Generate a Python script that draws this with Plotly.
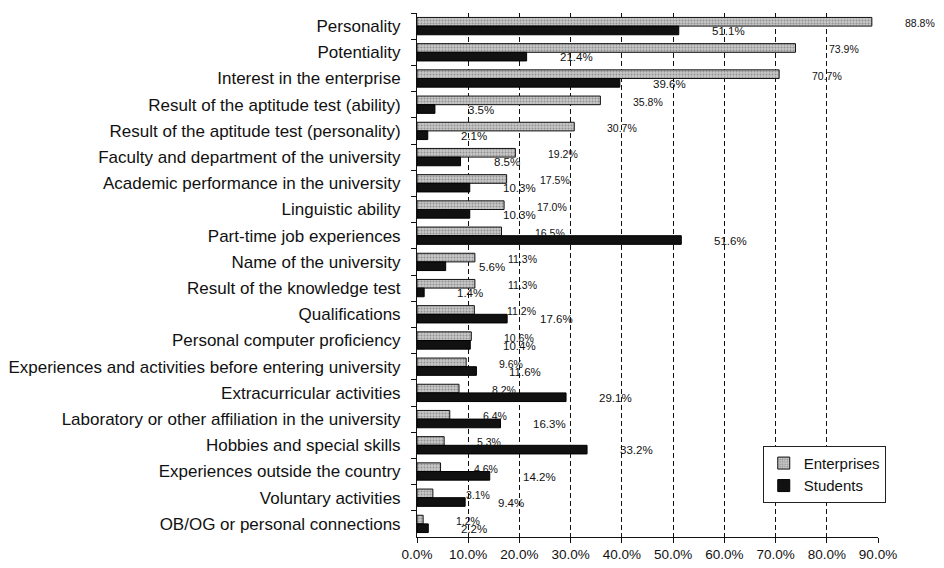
import plotly.graph_objects as go

categories = [
    "Personality",
    "Potentiality",
    "Interest in the enterprise",
    "Result of the aptitude test (ability)",
    "Result of the aptitude test (personality)",
    "Faculty and department of the university",
    "Academic performance in the university",
    "Linguistic ability",
    "Part-time job experiences",
    "Name of the university",
    "Result of the knowledge test",
    "Qualifications",
    "Personal computer proficiency",
    "Experiences and activities before entering university",
    "Extracurricular activities",
    "Laboratory or other affiliation in the university",
    "Hobbies and special skills",
    "Experiences outside the country",
    "Voluntary activities",
    "OB/OG or personal connections",
]

enterprises = [88.8, 73.9, 70.7, 35.8, 30.7, 19.2, 17.5, 17.0, 16.5, 11.3,
               11.3, 11.2, 10.6, 9.6, 8.2, 6.4, 5.3, 4.6, 3.1, 1.2]
students = [51.1, 21.4, 39.6, 3.5, 2.1, 8.5, 10.3, 10.3, 51.6, 5.6,
            1.4, 17.6, 10.4, 11.6, 29.1, 16.3, 33.2, 14.2, 9.4, 2.2]

x_ticks = [0, 10, 20, 30, 40, 50, 60, 70, 80, 90]

FONT = "Liberation Sans, Arial, Helvetica, sans-serif"

fig = go.Figure()
fig.add_trace(go.Bar(
    name="Enterprises", y=categories, x=enterprises, orientation="h",
    marker=dict(color="#b4b4b4",
                pattern=dict(shape=".", fgcolor="#5a5a5a", bgcolor="#c8c8c8", size=3, solidity=0.35),
                line=dict(color="#111111", width=1)),
))
fig.add_trace(go.Bar(
    name="Students", y=categories, x=students, orientation="h",
    marker=dict(color="#111111", line=dict(color="#000000", width=1)),
))

annotations = []
for c, e, s in zip(categories, enterprises, students):
    annotations.append(dict(x=e, y=c, xref="x", yref="y", text=f"{e:.1f}%",
                            showarrow=False, xanchor="left", yanchor="middle",
                            xshift=31, yshift=3,
                            font=dict(family=FONT, size=10.5, color="#111")))
    annotations.append(dict(x=s, y=c, xref="x", yref="y", text=f"{s:.1f}%",
                            showarrow=False, xanchor="left", yanchor="middle",
                            xshift=31, yshift=-5,
                            font=dict(family=FONT, size=11.5, color="#111")))

fig.update_layout(
    width=928, height=560,
    margin=dict(l=409, r=58, t=5, b=31),
    barmode="group", bargap=0.34, bargroupgap=0,
    paper_bgcolor="white", plot_bgcolor="white",
    font=dict(family=FONT, size=17, color="#111"),
    showlegend=True,
    legend=dict(x=0.75, y=0.174, xanchor="left", yanchor="top",
                bgcolor="white", bordercolor="#222", borderwidth=1,
                font=dict(family=FONT, size=15, color="#111"),
                traceorder="normal", itemwidth=30, tracegroupgap=0),
    annotations=annotations,
)
fig.update_xaxes(
    range=[0, 90], tickvals=x_ticks, ticktext=[f"{v:.1f}%" for v in x_ticks],
    showgrid=True, gridcolor="#111", gridwidth=1, griddash="5px,3px",
    showline=True, linecolor="#111", linewidth=1,
    ticks="outside", ticklen=5, tickcolor="#111",
    tickfont=dict(family=FONT, size=13.5, color="#111"),
    zeroline=False, fixedrange=True, automargin=False,
)
fig.update_yaxes(
    autorange="reversed", categoryorder="array", categoryarray=categories,
    showline=True, linecolor="#111", linewidth=1,
    ticks="outside", ticklen=5, tickcolor="#111", tickson="boundaries",
    tickfont=dict(family=FONT, size=17, color="#111"),
    showgrid=False, ticklabelstandoff=12, automargin=False,
)

fig.write_html("out.html")
